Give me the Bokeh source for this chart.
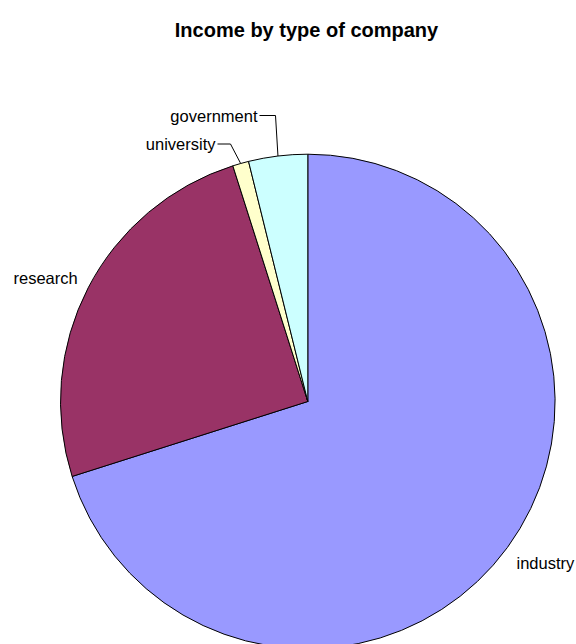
import math
from bokeh.plotting import figure
from bokeh.models import Range1d, ColumnDataSource
from bokeh.core.properties import value
from bokeh.embed import file_html
from bokeh.resources import INLINE

# ---- data ----
categories = ["industry", "research", "university", "government"]
values = [70.1, 25.0, 1.05, 3.85]
colors = ["#9999FF", "#993366", "#FFFFCC", "#CCFFFF"]
title_text = "Income by type of company"

# ---- layout ----
W, H = 576, 644
CX, CY, R = 307.3, H - 401.0, 247.3
FONT = "Liberation Sans"

p = figure(width=W, height=H, output_backend="svg", toolbar_location=None,
           x_range=Range1d(0, W), y_range=Range1d(0, H),
           min_border=0, outline_line_color=None, background_fill_color="white")
p.axis.visible = False
p.grid.visible = False

total = sum(values)
starts, ends, mids = [], [], []
acc = 0.0
for v in values:
    a0 = math.pi / 2 - 2 * math.pi * acc / total
    acc += v
    a1 = math.pi / 2 - 2 * math.pi * acc / total
    starts.append(a0)
    ends.append(a1)
    mids.append((a0 + a1) / 2)

src = ColumnDataSource(dict(start=starts, end=ends, color=colors, cat=categories))
p.wedge(x=CX, y=CY, radius=R, start_angle="start", end_angle="end",
        direction="clock", fill_color="color", line_color="black", line_width=1,
        source=src)

# labels
label_font_size = "16.5px"
# (x, y, align) per category, pixel-based positions
label_pos = {
    "industry": (516, H - 562, "left"),
    "research": (13, H - 277, "left"),
    "university": (215, H - 143.5, "right"),
    "government": (257, H - 115, "right"),
}
for cat in categories:
    x, y, al = label_pos[cat]
    p.text(x=[x], y=[y], text=[cat], text_font=value(FONT),
           text_font_size=label_font_size, text_align=al,
           text_baseline="middle", text_color="black")

# leader lines for small slices
leaders = {"university": (217, 230), "government": (259, 275)}
for cat, (x0, x1) in leaders.items():
    i = categories.index(cat)
    ax = CX + R * math.cos(mids[i])
    ay = CY + R * math.sin(mids[i])
    ly = label_pos[cat][1]
    p.line(x=[x0, x1, ax], y=[ly, ly, ay], line_color="black", line_width=1)

# title
p.text(x=[306], y=[H - 29], text=[title_text], text_font=value(FONT),
       text_font_size="20px", text_font_style="bold", text_align="center",
       text_baseline="middle", text_color="black")

open("out.html", "w").write(file_html(p, INLINE))
